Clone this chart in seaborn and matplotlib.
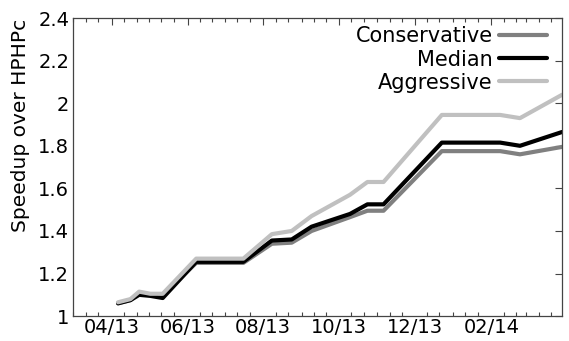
import matplotlib
matplotlib.use("Agg")
import matplotlib.pyplot as plt
import matplotlib.dates as mdates
import seaborn as sns
import pandas as pd

dates = ["2013-04-06", "2013-04-16", "2013-04-23", "2013-05-02", "2013-05-12",
         "2013-06-08", "2013-07-16", "2013-08-08", "2013-08-24", "2013-09-09",
         "2013-10-10", "2013-10-24", "2013-11-06", "2013-12-23", "2014-02-08",
         "2014-02-24", "2014-03-30"]
conservative = [1.06, 1.075, 1.11, 1.10, 1.10, 1.25, 1.25, 1.34, 1.345, 1.40,
                1.465, 1.495, 1.495, 1.775, 1.775, 1.76, 1.795]
median = [1.06, 1.075, 1.10, 1.095, 1.085, 1.255, 1.255, 1.355, 1.36, 1.42,
          1.48, 1.525, 1.525, 1.815, 1.815, 1.80, 1.865]
aggressive = [1.065, 1.08, 1.115, 1.105, 1.105, 1.27, 1.27, 1.385, 1.40, 1.47,
              1.57, 1.63, 1.63, 1.945, 1.945, 1.93, 2.04]
series_names = ["Conservative", "Median", "Aggressive"]
colors = ["#808080", "#000000", "#c0c0c0"]
yticks = [1, 1.2, 1.4, 1.6, 1.8, 2, 2.2, 2.4]
ytick_labels = ["1", "1.2", "1.4", "1.6", "1.8", "2", "2.2", "2.4"]

frames = []
for name, vals in zip(series_names, [conservative, median, aggressive]):
    frames.append(pd.DataFrame({"date": pd.to_datetime(dates), "speedup": vals, "series": name}))
df = pd.concat(frames, ignore_index=True)

sns.set_style("white")
plt.rcParams["font.family"] = ["DejaVu Sans"]
plt.rcParams["text.color"] = "black"
plt.rcParams["axes.labelcolor"] = "black"
plt.rcParams["xtick.color"] = "black"
plt.rcParams["ytick.color"] = "black"

fig = plt.figure(figsize=(5.69, 3.41), dpi=100)
ax = fig.add_axes([0.129, 0.073, 0.859, 0.874])

sns.lineplot(data=df, x="date", y="speedup", hue="series", hue_order=series_names,
             palette=colors, linewidth=3.0, ax=ax, legend=True)

ax.set_xlim(pd.Timestamp("2013-03-01"), pd.Timestamp("2014-03-30"))
ax.set_ylim(1, 2.4)
ax.set_yticks(yticks)
ax.set_yticklabels(ytick_labels)
ax.xaxis.set_major_locator(mdates.MonthLocator(bymonth=[2, 4, 6, 8, 10, 12]))
ax.xaxis.set_major_formatter(mdates.DateFormatter("%m/%y"))
ax.xaxis.set_minor_locator(mdates.DayLocator(bymonthday=[1, 11, 21]))

ax.set_xlabel("")
ax.set_ylabel("Speedup over HPHPc", fontsize=14.5)
ax.yaxis.set_label_coords(-0.089, 0.64)
ax.tick_params(axis="both", which="major", direction="in", length=5, width=0.8,
               top=True, right=True, labelsize=14, color="#444444",
               labelcolor="black")
ax.tick_params(axis="x", which="major", pad=1.5)
ax.tick_params(axis="y", which="major", pad=3)
ax.tick_params(axis="x", which="minor", direction="in", length=3, width=0.8,
               top=True, bottom=True, color="#444444")
for sp in ax.spines.values():
    sp.set_color("#444444")
    sp.set_linewidth(0.9)

handles, labels = ax.get_legend_handles_labels()
leg = ax.legend(handles, labels, loc="upper right", frameon=False, markerfirst=False,
                fontsize=15, handlelength=2.3, handletextpad=0.3, labelspacing=0.15,
                borderaxespad=0.0, borderpad=0.2, bbox_to_anchor=(0.977, 0.986))
for text in leg.get_texts():
    text.set_color("black")
for line in leg.get_lines():
    line.set_linewidth(3.0)

fig.savefig("out.png", dpi=100)
